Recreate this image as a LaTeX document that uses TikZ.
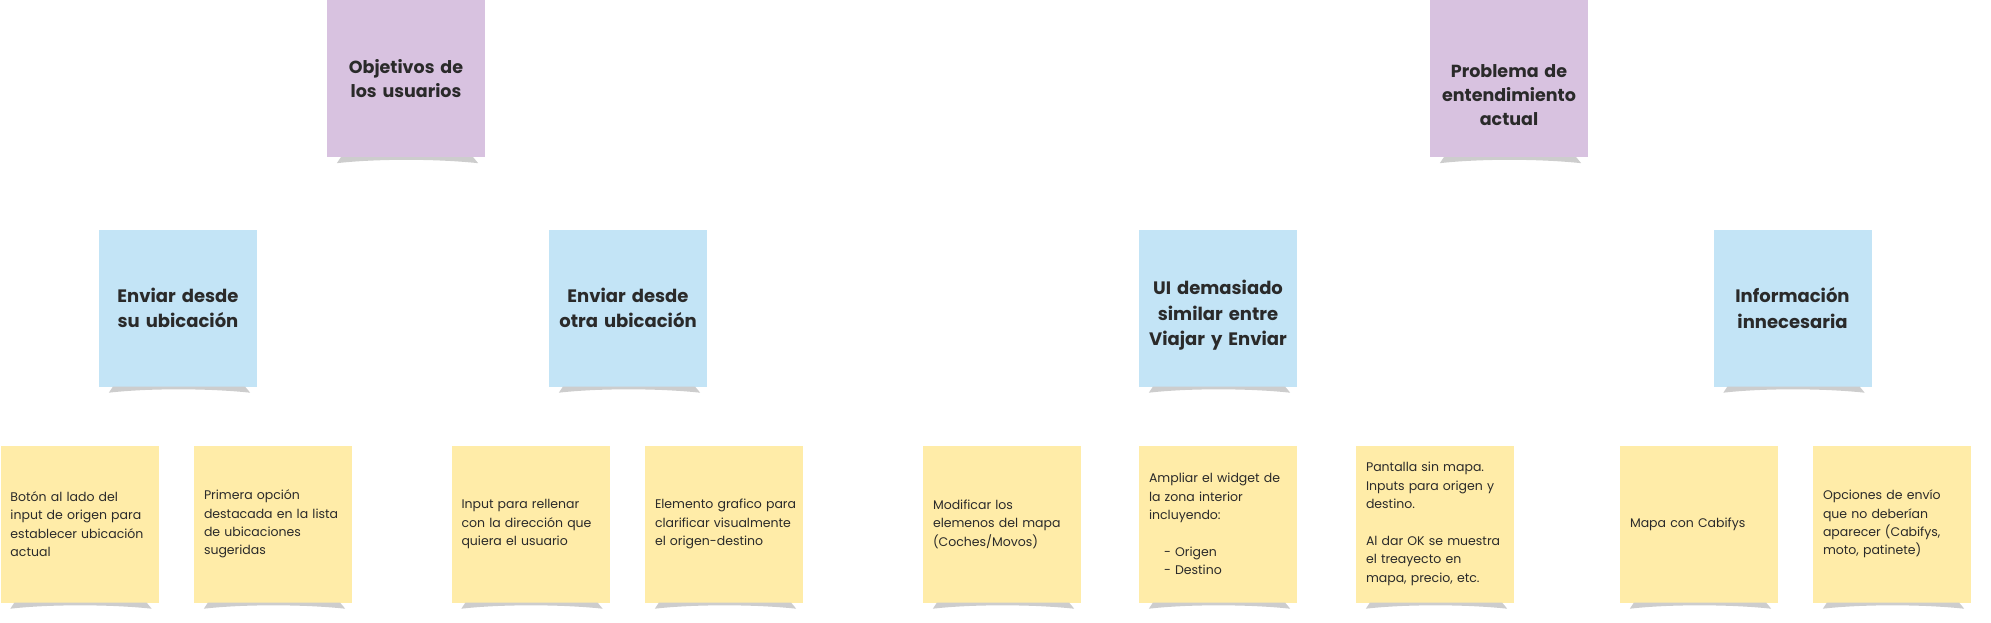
\documentclass[tikz,border=0pt]{standalone}
\usepackage{fontspec}
\setmainfont{Poppins}
\usetikzlibrary{calc}
\definecolor{goalpurple}{HTML}{D8C2E0}
\definecolor{issueblue}{HTML}{C3E4F6}
\definecolor{ideayellow}{HTML}{FFECA8}
\definecolor{inktext}{HTML}{2A2A2A}
\definecolor{foldgray}{HTML}{CDCDCD}
\tikzset{
	every node/.style={text=inktext},
	note/.style={
		rectangle,
		minimum width=158pt,
		minimum height=157pt,
		inner xsep=1pt,
		inner ysep=0pt,
		text width=156pt,
	},
	goal/.style={
		note,
		fill=goalpurple,
		align=center,
		font=\fontsize{17.5}{24}\selectfont\bfseries,
	},
	issue/.style={
		note,
		fill=issueblue,
		align=center,
		font=\fontsize{18}{25.5}\selectfont\bfseries,
	},
	idea/.style={
		note,
		fill=ideayellow,
		align=left,
		font=\fontsize{12.5}{18.4}\selectfont,
		execute at begin node={\leftskip=9pt},
	},
	% pushes the text of a note a bit further down
	textdrop/.style={
		text height=#1,
	},
	notefold/.style={
		fill=foldgray,
	},
}

\begin{document}
\begin{tikzpicture}[x=1pt,y=-1pt]
		\useasboundingbox (0,0) rectangle (1991,623);

		% top row
		\node[goal]  (obj)  at (406,78.5)  {Objetivos de\\los usuarios};
		\node[goal,textdrop=47pt] (prob) at (1509,78.5) {Problema de\\entendimiento\\actual};

		% middle row
		\node[issue] (here)  at (178,308)    {Enviar desde\\su ubicación};
		\node[issue] (other) at (628,308)    {Enviar desde\\otra ubicación};
		\node[issue,textdrop=29pt] (same) at (1218,308) {UI demasiado\\similar entre\\Viajar y Enviar};
		\node[issue] (extra) at (1792.5,308) {Información\\innecesaria};

		% bottom row
		\node[idea] (btn)    at (79.5,524)  {Botón al lado del\\input de origen para\\establecer ubicación\\actual};
		\node[idea] (first)  at (273,524)   {Primera opción\\destacada en la lista\\de ubicaciones\\sugeridas};
		\node[idea] (input)  at (530.5,524) {Input para rellenar\\con la dirección que\\quiera el usuario};
		\node[idea] (graph)  at (724,524)   {Elemento grafico para\\clarificar visualmente\\el origen-destino};
		\node[idea] (cars)   at (1002,524)  {Modificar los\\elemenos del mapa\\(Coches/Movos)};
		\node[idea] (widget) at (1218,524)  {Ampliar el widget de\\la zona interior\\incluyendo:\\[18.4pt]
			\hspace*{15pt}- Origen\\\hspace*{15pt}- Destino};
		\node[idea] (nomap)  at (1435,524)  {Pantalla sin mapa.\\Inputs para origen y\\destino.\\[18.4pt]
			Al dar OK se muestra\\el treayecto en\\mapa, precio, etc.};
		\node[idea] (cabify) at (1699,524)  {Mapa con Cabifys};
		\node[idea] (opts)   at (1892,524)  {Opciones de envío\\que no deberían\\aparecer (Cabifys,\\moto, patinete)};

		% curled shadow under every note
		\foreach \n in {obj,prob,here,other,same,extra,btn,first,input,graph,cars,widget,nomap,cabify,opts}
			\fill[notefold] ($(\n.south west)+(14,0)$) -- ($(\n.south east)+(-12,0)$)
				-- ($(\n.south east)+(-7,6)$)
				.. controls ($(\n.south)+(30,1.5)$) and ($(\n.south)+(-30,1.5)$) ..
				($(\n.south west)+(10,6)$) -- cycle;

	\end{tikzpicture}
\end{document}
